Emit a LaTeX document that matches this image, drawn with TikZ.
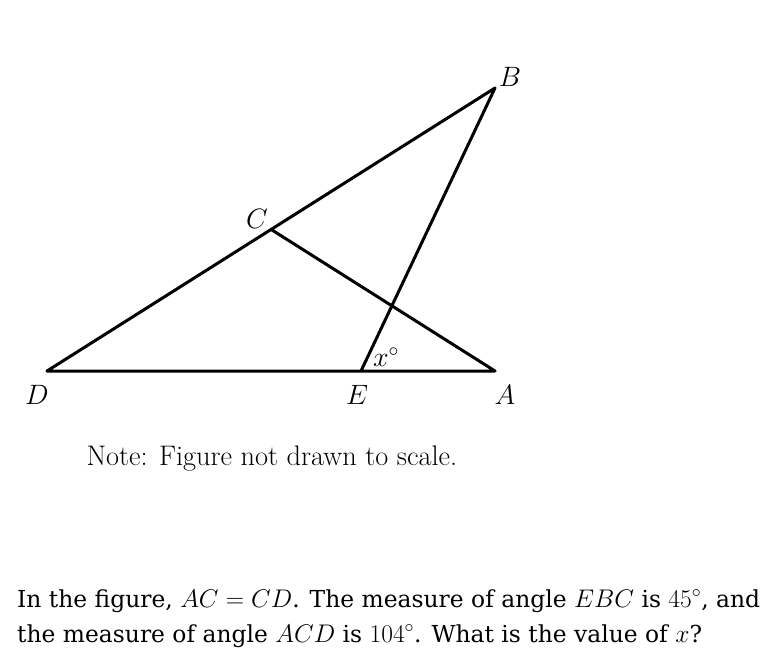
\RequirePackage{fix-cm}
\documentclass[tikz,border=0pt]{standalone}
\usepackage{fontspec}
\newfontfamily\qfont{DejaVu Serif}
\newcommand\qm[1]{{\fontsize{25.5}{35}\selectfont$#1$}}
\tikzset{seg/.style={line width=3pt},
  lbl/.style={font=\fontsize{28}{32}\selectfont}}
\begin{document}
\begin{tikzpicture}[x=1pt, y=-1pt, line join=round, line cap=round]
	\useasboundingbox (0,0) rectangle (778,667);
	\coordinate (D) at (47,371); \coordinate (A) at (495,371);
	\coordinate (E) at (361,371); \coordinate (B) at (495,88);
	\coordinate (C) at (272,230);
	\draw[seg] (D)--(A) (D)--(B) (C)--(A) (E)--(B);
	% labels
	\node[lbl] (lD) at (37,395) {$D$};
	\node[lbl] (lE) at (357,395) {$E$};
	\node[lbl] (lA) at (505,395) {$A$};
	\node[lbl] (lB) at (510,77) {$B$};
	\node[lbl] (lC) at (257,219) {$C$};
	\node[lbl] (lx) at (386,357) {$x^\circ$};
	\node[anchor=base west, font=\fontsize{28.3}{32}\selectfont] (note) at (83,465) {Note: Figure not drawn to scale.};
	\node[anchor=base west, align=left, inner sep=0pt, font=\qfont\fontsize{23.4}{35}\selectfont] (q) at (17,642)
	{In the figure, \qm{AC = CD}. The measure of angle \qm{EBC} is \qm{45^\circ}, and\\
	 the measure of angle \qm{ACD} is \qm{104^\circ}. What is the value of \qm{x}?};
\end{tikzpicture}
\end{document}
